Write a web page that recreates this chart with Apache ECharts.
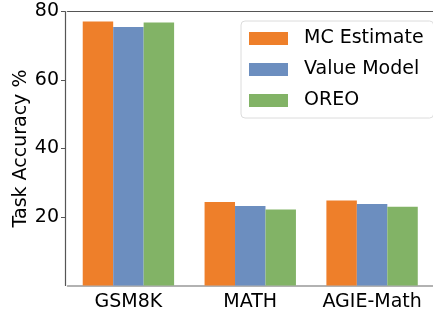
<!DOCTYPE html>
<html>
<head>
<meta charset="utf-8">
<script src="https://cdn.jsdelivr.net/npm/echarts@6/dist/echarts.min.js"></script>
<style>
  html, body { margin: 0; padding: 0; background: #fff; }
  #chart { width: 433px; height: 315px; }
</style>
</head>
<body>
<div id="chart"></div>
<script>
var categories = ['GSM8K', 'MATH', 'AGIE-Math']
var seriesNames = ['MC Estimate', 'Value Model', 'OREO']
var mcEstimate = [77.1, 24.4, 24.8]
var valueModel = [75.5, 23.2, 23.8]
var oreo = [76.8, 22.2, 23.0]
var yTicks = [20, 40, 60, 80]

var font = '"Comic Sans MS", "DejaVu Sans", sans-serif'
var colors = ['#EE7F2A', '#6C8EBF', '#82B366']

var chart = echarts.init(document.getElementById('chart'))
chart.setOption({
    animation: false,
    color: colors,
    textStyle: { fontFamily: font },
    grid: { left: 67.5, right: -1.5, top: 11.5, bottom: 29.5 },
    legend: {
        data: seriesNames,
        orient: 'vertical',
        icon: 'rect',
        left: 241,
        top: 21,
        itemWidth: 39,
        itemHeight: 13,
        itemGap: 12,
        padding: [8, 10, 8, 8],
        borderColor: '#dcdcdc',
        borderWidth: 1,
        borderRadius: 4,
        backgroundColor: '#fff',
        textStyle: { fontSize: 19, color: '#000', fontFamily: font, padding: [0, 0, 0, 11] }
    },
    xAxis: [{
        type: 'category',
        data: categories,
        axisLine: { lineStyle: { color: '#999', width: 1.5 } },
        axisTick: { alignWithLabel: true, length: 4, lineStyle: { color: '#777' } },
        axisLabel: { interval: 0, fontSize: 19, color: '#000', fontFamily: font, margin: 7 }
    }, {
        type: 'category',
        position: 'top',
        data: categories,
        axisLine: { lineStyle: { color: '#555', width: 1.2 } },
        axisTick: { show: false },
        axisLabel: { show: false }
    }],
    yAxis: {
        type: 'value',
        min: 0,
        max: 80,
        interval: 20,
        offset: 2.5,
        name: 'Task Accuracy %',
        nameLocation: 'middle',
        nameGap: 34,
        nameMoveOverlap: false,
        nameTextStyle: { fontSize: 19, color: '#000', fontFamily: font },
        axisLine: { show: true, lineStyle: { color: '#555', width: 1.2 } },
        axisTick: { show: true, length: 4, customValues: yTicks, lineStyle: { color: '#555' } },
        splitLine: { show: false },
        axisLabel: {
            fontSize: 19, color: '#000', fontFamily: font, margin: 6,
            customValues: yTicks
        }
    },
    series: [
        { name: seriesNames[0], type: 'bar', data: mcEstimate, barGap: '0%', barCategoryGap: '25%' },
        { name: seriesNames[1], type: 'bar', data: valueModel, barGap: '0%', barCategoryGap: '25%' },
        { name: seriesNames[2], type: 'bar', data: oreo, barGap: '0%', barCategoryGap: '25%' }
    ]
})
</script>
</body>
</html>
